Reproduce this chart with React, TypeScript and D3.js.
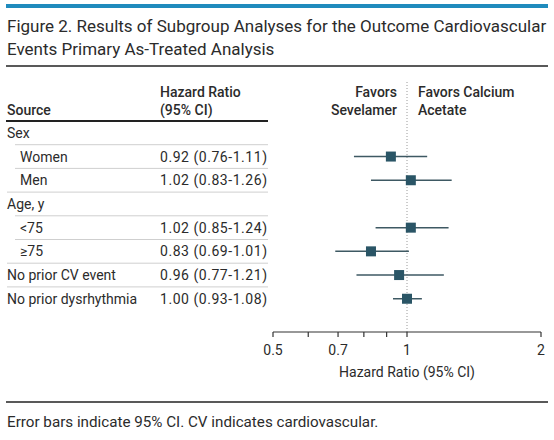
import React from "react";
import * as d3 from "d3";

const titleLines = [
  "Figure 2. Results of Subgroup Analyses for the Outcome Cardiovascular",
  "Events Primary As-Treated Analysis",
];
const rowLabels = ["Sex", "Women", "Men", "Age, y", "<75", "≥75", "No prior CV event", "No prior dysrhythmia"];
const rowIndent = [false, true, true, false, true, true, false, false];
const hrValues: (number | null)[] = [null, 0.92, 1.02, null, 1.02, 0.83, 0.96, 1.0];
const ciLow: (number | null)[] = [null, 0.76, 0.83, null, 0.85, 0.69, 0.77, 0.93];
const ciHigh: (number | null)[] = [null, 1.11, 1.26, null, 1.24, 1.01, 1.21, 1.08];
const hrText = ["", "0.92 (0.76-1.11)", "1.02 (0.83-1.26)", "", "1.02 (0.85-1.24)", "0.83 (0.69-1.01)", "0.96 (0.77-1.21)", "1.00 (0.93-1.08)"];
const majorTicks = [0.5, 0.7, 1, 2];
const minorTicks = [0.6, 0.8, 0.9];
const footnote = "Error bars indicate 95% CI. CV indicates cardiovascular.";

const FONT = "Roboto, 'Noto Sans', sans-serif";
const TXT = "#2b2b2b";
const FS = 14;

export default function App() {
  const x = d3.scaleLog().domain([0.5, 2]).range([273, 541]);
  const rowTop = 121;
  const rowH = 23.7;
  const y = d3
    .scaleBand<number>()
    .domain(rowLabels.map((_, i) => i))
    .range([rowTop, rowTop + rowH * rowLabels.length])
    .padding(0);
  const yc = (i: number) => (y(i) as number) + y.bandwidth() / 2;
  const axisY = 332;
  const sq = 10;

  return (
    <svg
      width={554}
      height={440}
      style={{ position: "absolute", left: 0, top: 0, background: "#fff" }}
      fontFamily={FONT}
    >
      <rect x={0} y={0} width={554} height={440} fill="#fff" />
      <rect x={6} y={4} width={542} height={4} fill="#1f8bbd" />
      {titleLines.map((t, i) => (
        <text key={i} x={7} y={32 + i * 23} fontSize={17} fill={TXT}>
          {t}
        </text>
      ))}
      <line x1={6} x2={548} y1={66} y2={66} stroke="#222" strokeWidth={1.5} />

      {/* table header */}
      <text x={7} y={115} fontSize={FS} fill={TXT} fontWeight={500}>Source</text>
      <text x={160} y={97} fontSize={FS} fill={TXT} fontWeight={500}>Hazard Ratio</text>
      <text x={160} y={115} fontSize={FS} fill={TXT} fontWeight={500}>(95% CI)</text>
      <line x1={6} x2={268} y1={121} y2={121} stroke="#222" strokeWidth={2} />

      <text x={397} y={97} fontSize={FS} fill={TXT} fontWeight={500} textAnchor="end">Favors</text>
      <text x={397} y={115} fontSize={FS} fill={TXT} fontWeight={500} textAnchor="end">Sevelamer</text>
      <text x={418} y={97} fontSize={FS} fill={TXT} fontWeight={500}>Favors Calcium</text>
      <text x={418} y={115} fontSize={FS} fill={TXT} fontWeight={500}>Acetate</text>

      {/* reference line */}
      <line x1={x(1)} x2={x(1)} y1={82} y2={axisY} stroke="#9a9a9a" strokeWidth={1} strokeDasharray="1,2" />

      {/* rows */}
      {rowLabels.map((lab, i) => {
        const yy = yc(i);
        const next = i + 1 < rowLabels.length ? rowIndent[i + 1] : false;
        return (
          <g key={lab}>
            <text x={rowIndent[i] ? 20 : 7} y={yy + 5} fontSize={FS} fill={TXT}>
              {lab}
            </text>
            {hrText[i] && (
              <text x={160} y={yy + 5} fontSize={FS} fill={TXT} textLength={107} lengthAdjust="spacing">
                {hrText[i]}
              </text>
            )}
            {i < rowLabels.length - 1 && (
              <line
                x1={next ? 15 : 7}
                x2={268}
                y1={(y(i) as number) + y.bandwidth()}
                y2={(y(i) as number) + y.bandwidth()}
                stroke="#cfcfcf"
                strokeWidth={1}
              />
            )}
            {hrValues[i] != null && (
              <g>
                <line
                  x1={x(ciLow[i] as number)}
                  x2={x(ciHigh[i] as number)}
                  y1={yy}
                  y2={yy}
                  stroke="#3e5963"
                  strokeWidth={1.5}
                />
                <rect
                  x={x(hrValues[i] as number) - sq / 2}
                  y={yy - sq / 2}
                  width={sq}
                  height={sq}
                  fill="#2a5566"
                />
              </g>
            )}
          </g>
        );
      })}

      {/* axis */}
      <line x1={x(0.5)} x2={x(2)} y1={axisY} y2={axisY} stroke="#333" strokeWidth={1.2} />
      {majorTicks.concat(minorTicks).map((t) => (
        <line key={t} x1={x(t)} x2={x(t)} y1={axisY} y2={axisY + 5} stroke="#333" strokeWidth={1.2} />
      ))}
      {majorTicks.map((t) => (
        <text key={t} x={x(t)} y={355} fontSize={FS} fill={TXT} textAnchor="middle">
          {String(t)}
        </text>
      ))}
      <text x={x(1)} y={377} fontSize={FS} fill={TXT} textAnchor="middle">Hazard Ratio (95% CI)</text>

      <line x1={6} x2={548} y1={402} y2={402} stroke="#222" strokeWidth={1.5} />
      <text x={7} y={427} fontSize={15.2} fill={TXT}>{footnote}</text>
    </svg>
  );
}
